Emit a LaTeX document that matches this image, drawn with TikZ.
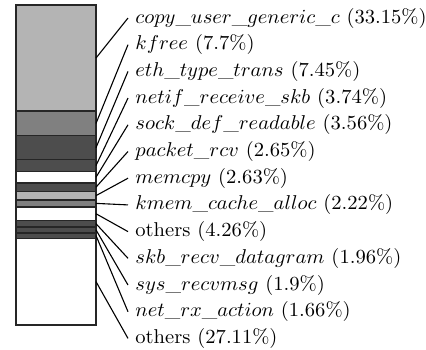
\documentclass[tikz,border=0pt]{standalone}
\usepackage{tikz}
\usetikzlibrary{positioning}
\definecolor{BarLight}{RGB}{180, 180, 180}
\definecolor{BarMid}{RGB}{128, 128, 128}
\definecolor{BarDark}{RGB}{77, 77, 77}
\tikzset{
    seg/.style={draw=black!85, line width=0.7pt},
    lbl/.style={anchor=west, inner sep=3.4pt, text height=7pt, text depth=2pt,
        font=\fontsize{10}{12}\selectfont, xscale=1.03, transform shape},
    conn/.style={draw=black, line width=0.55pt}
}

\begin{document}
\begin{tikzpicture}[x=0.5pt, y=-0.5pt]
    \useasboundingbox (0,0) rectangle (426,349);
    % bar segments, top to bottom
    \foreach \i/\ytop/\ybot/\col in {
        1/5/111.08/BarLight, 2/111.08/135.72/BarMid, 3/135.72/159.56/BarDark,
        4/159.56/171.53/BarDark, 5/171.53/182.92/white, 6/182.92/191.4/BarDark,
        7/191.4/199.82/BarLight, 8/199.82/206.92/BarMid, 9/206.92/220.55/white,
        10/220.55/226.82/BarDark, 11/226.82/232.9/BarDark, 12/232.9/238.22/BarDark,
        13/238.22/325/white}{
        \draw[seg, fill=\col] (16,\ytop) rectangle (96,\ybot);
        \coordinate (s\i) at (96,{(\ytop+\ybot)/2});
    }
    % labels
    \foreach \i/\txt in {
        1/{$copy\_user\_generic\_c$ (33.15\%)},
        2/{$kfree$ (7.7\%)},
        3/{$eth\_type\_trans$ (7.45\%)},
        4/{$netif\_receive\_skb$ (3.74\%)},
        5/{$sock\_def\_readable$ (3.56\%)},
        6/{$packet\_rcv$ (2.65\%)},
        7/{$memcpy$ (2.63\%)},
        8/{$kmem\_cache\_alloc$ (2.22\%)},
        9/{others (4.26\%)},
        10/{$skb\_recv\_datagram$ (1.96\%)},
        11/{$sys\_recvmsg$ (1.9\%)},
        12/{$net\_rx\_action$ (1.66\%)},
        13/{others (27.11\%)}}{
        \node[lbl] (l\i) at (128,{18+26.7*(\i-1)}) {\txt};
    }
    \foreach \i in {1,...,13}
        \draw[conn] (s\i) -- (l\i.west);
\end{tikzpicture}
\end{document}
